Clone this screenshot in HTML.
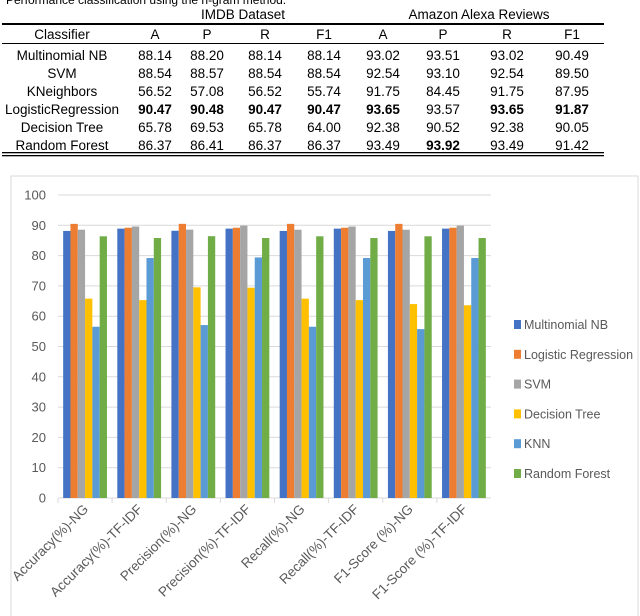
<!DOCTYPE html>
<html><head><meta charset="utf-8"><style>
html,body{margin:0;padding:0;background:#fff;}
svg{display:block;font-family:"Liberation Sans",sans-serif;}
</style></head><body>
<svg id="root" width="640" height="616" viewBox="0 0 640 616">
<g font-size="13.5" fill="#000" text-anchor="middle">
<text x="6" y="4" text-anchor="start" font-size="12">Performance classification using the n-gram method.</text>
<text x="243" y="19">IMDB Dataset</text>
<text x="479" y="19">Amazon Alexa Reviews</text>
<rect x="2" y="23" width="602" height="2" fill="#000"/>
<rect x="2" y="43" width="602" height="1" fill="#000"/>
<rect x="2" y="152" width="602" height="1.3" fill="#000"/>
<rect x="2" y="155" width="602" height="1.3" fill="#000"/>
<g id="tbl"></g>
</g>
<rect x="11" y="176" width="627" height="450" fill="none" stroke="#d9d9d9"/>
<g id="chart"></g>
</svg>
<script>
const NS='http://www.w3.org/2000/svg';
function mk(tag,attrs,parent,txt){const e=document.createElementNS(NS,tag);for(const k in attrs)e.setAttribute(k,attrs[k]);if(txt!==undefined)e.textContent=txt;parent.appendChild(e);return e;}
// table data
const tableHeaders=['Classifier','A','P','R','F1','A','P','R','F1'];
const tableRows=[
['Multinomial NB','88.14','88.20','88.14','88.14','93.02','93.51','93.02','90.49'],
['SVM','88.54','88.57','88.54','88.54','92.54','93.10','92.54','89.50'],
['KNeighbors','56.52','57.08','56.52','55.74','91.75','84.45','91.75','87.95'],
['LogisticRegression','90.47','90.48','90.47','90.47','93.65','93.57','93.65','91.87'],
['Decision Tree','65.78','69.53','65.78','64.00','92.38','90.52','92.38','90.05'],
['Random Forest','86.37','86.41','86.37','86.37','93.49','93.92','93.49','91.42']];
const boldCells=[[3,1],[3,2],[3,3],[3,4],[3,5],[3,7],[3,8],[5,6]];
const colX=[62,155,207,265,324,383,443,507,572];
const tbl=document.getElementById('tbl');
tableHeaders.forEach((h,i)=>{const t=mk('text',{x:colX[i],y:39},tbl,h);

});
tableRows.forEach((r,ri)=>{r.forEach((v,ci)=>{const b=boldCells.some(c=>c[0]===ri&&c[1]===ci);
const t=mk('text',{x:colX[ci],y:60+ri*18,'font-weight':b?'bold':'normal'},tbl,v);

});});

// chart data
const categories=['Accuracy(%)-NG','Accuracy(%)-TF-IDF','Precision(%)-NG','Precision(%)-TF-IDF','Recall(%)-NG','Recall(%)-TF-IDF','F1-Score (%)-NG','F1-Score (%)-TF-IDF'];
const seriesNames=['Multinomial NB','Logistic Regression','SVM','Decision Tree','KNN','Random Forest'];
const nbVals=[88.14,88.9,88.2,88.9,88.14,88.9,88.14,88.9];
const lrVals=[90.47,89.2,90.48,89.2,90.47,89.2,90.47,89.2];
const svmVals=[88.54,89.6,88.57,89.9,88.54,89.6,88.54,89.9];
const dtVals=[65.78,65.3,69.53,69.4,65.78,65.3,64.0,63.6];
const knnVals=[56.52,79.2,57.08,79.4,56.52,79.2,55.74,79.2];
const rfVals=[86.37,85.8,86.41,85.8,86.37,85.8,86.37,85.8];
const yTicks=[0,10,20,30,40,50,60,70,80,90,100];
const seriesVals=[nbVals,lrVals,svmVals,dtVals,knnVals,rfVals];
const colors=['#4472c4','#ed7d31','#a5a5a5','#ffc000','#5b9bd5','#70ad47'];
const X0=58,X1=491,Y0=498,Y1=195;
const y=v=>Y0-(v/100)*(Y0-Y1);
const gw=(X1-X0)/categories.length;
const bw=7.3;
const ch=document.getElementById('chart');
yTicks.forEach(t=>{
 if(t>0){const l=mk('line',{x1:X0,x2:X1,y1:y(t),y2:y(t),stroke:'#d9d9d9','stroke-width':1},ch);
 
 }
 const tx=mk('text',{x:46,y:y(t)+4.5,'text-anchor':'end','font-size':13,fill:'#595959'},ch,String(t));
 
 
});
const ax=mk('line',{x1:X0,x2:X1,y1:Y0,y2:Y0,stroke:'#d9d9d9'},ch);


categories.forEach((c,gi)=>{
 const gx=X0+gi*gw;
 const tk=mk('line',{x1:gx,x2:gx,y1:Y0,y2:Y0+5,stroke:'#d9d9d9'},ch);
 
 
 const start=gx+(gw-bw*6)/2;
 seriesVals.forEach((vals,si)=>{
  const r=mk('rect',{x:start+si*bw,y:y(vals[gi]),width:bw,height:Y0-y(vals[gi]),fill:colors[si]},ch);
  
  
 });
 const cx=gx+gw/2+4;
 const lab=mk('text',{x:cx,y:Y0+12,'text-anchor':'end','font-size':13.5,fill:'#595959',transform:`rotate(-45 ${cx} ${Y0+12})`},ch,c);
 
 
});
const lg=mk('g',{},ch);


seriesNames.forEach((n,i)=>{
 const ly=325+i*29.8;
 const s=mk('rect',{x:514,y:ly-5,width:7,height:9,fill:colors[i]},lg);
 
 
 const t=mk('text',{x:524,y:ly+4,'font-size':12.5,fill:'#595959'},lg,n);
 
 
});
</script>
</body></html>
